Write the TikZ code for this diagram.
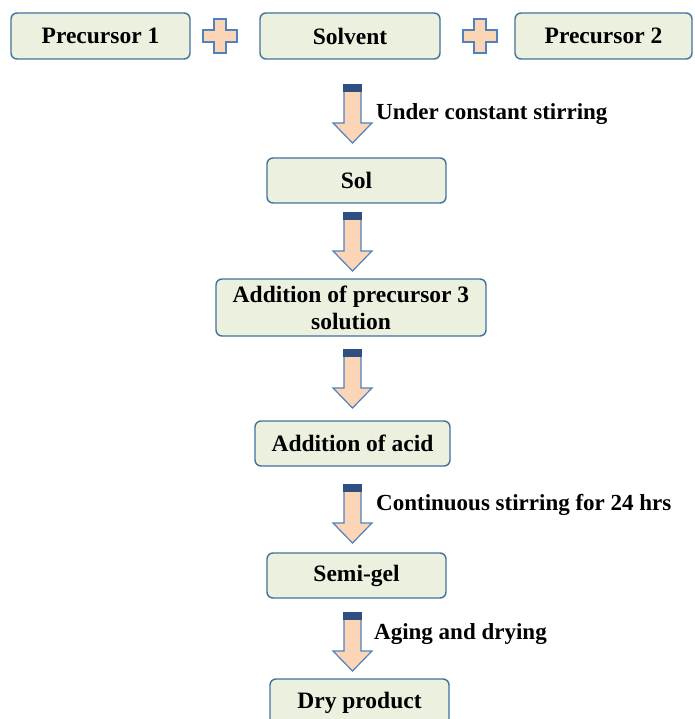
\documentclass[tikz,border=0pt]{standalone}
\usepackage{fontspec}
\setmainfont{Liberation Serif}
\definecolor{boxfill}{HTML}{EBF1DE}
\definecolor{boxline}{HTML}{41719C}
\definecolor{arrfill}{HTML}{FBD5B5}
\definecolor{arrline}{HTML}{4F81BD}
\definecolor{capcol}{HTML}{2E4F7F}
\tikzset{
  stepbox/.style={draw=boxline, fill=boxfill, line width=1.4pt, rounded corners=6pt,
    font=\fontsize{23.5}{27}\selectfont\bfseries, align=center, inner sep=0pt},
  lbl/.style={anchor=west, font=\fontsize{23}{25}\selectfont\bfseries, inner sep=0pt},
}
\newcommand{\blockarrow}[2]{% x, ytop
  \begin{scope}[shift={(#1,#2)}, x=1pt, y=-1pt]
  \draw[arrline, fill=arrfill, line width=1.2pt, line join=miter]
    (-8.5,0) -- (8.5,0) -- (8.5,38) -- (19.5,38) -- (0,58) -- (-19.5,38) -- (-8.5,38) -- cycle;
  \fill[capcol] (-9.2,-0.6) rectangle (9.2,7);
  \end{scope}}
\newcommand{\plussign}[2]{%
  \begin{scope}[shift={(#1,#2)}, x=1pt, y=-1pt]
  \draw[arrline, fill=arrfill, line width=1.2pt]
    (-6,17) -- (6,17) -- (6,6) -- (17,6) -- (17,-6) -- (6,-6) -- (6,-17) -- (-6,-17) -- (-6,-6) -- (-17,-6) -- (-17,6) -- (-6,6) -- cycle;
  \end{scope}}
\begin{document}
\begin{tikzpicture}[x=1pt,y=-1pt]
\useasboundingbox (0,0) rectangle (694,719);
\node[stepbox, minimum width=179pt, minimum height=46pt] (p1) at (100.5,36) {Precursor 1};
\node[stepbox, minimum width=180pt, minimum height=46pt] (solv) at (350,36) {Solvent};
\node[stepbox, minimum width=177pt, minimum height=46pt] (p2) at (603.5,36) {Precursor 2};
\plussign{220}{36}
\plussign{480}{36}
\node[stepbox, minimum width=179pt, minimum height=45pt] (sol) at (356.5,180.5) {Sol};
\node[stepbox, minimum width=270pt, minimum height=57pt] (p3) at (351,307.5) {Addition of precursor 3\\solution};
\node[stepbox, minimum width=195pt, minimum height=45pt] (acid) at (352.5,443.5) {Addition of acid};
\node[stepbox, minimum width=179pt, minimum height=45pt] (semi) at (356.5,575.5) {Semi-gel};
\node[stepbox, minimum width=179pt, minimum height=48pt] (dry) at (359.5,703) {Dry product};
\blockarrow{352.5}{85}
\blockarrow{352.5}{213}
\blockarrow{352.5}{350}
\blockarrow{352.5}{485}
\blockarrow{352.5}{613}
\node[lbl] (l1) at (376,114) {Under constant stirring};
\node[lbl] (l2) at (376,505) {Continuous stirring for 24 hrs};
\node[lbl] (l3) at (374,634) {Aging and drying};
\end{tikzpicture}
\end{document}
